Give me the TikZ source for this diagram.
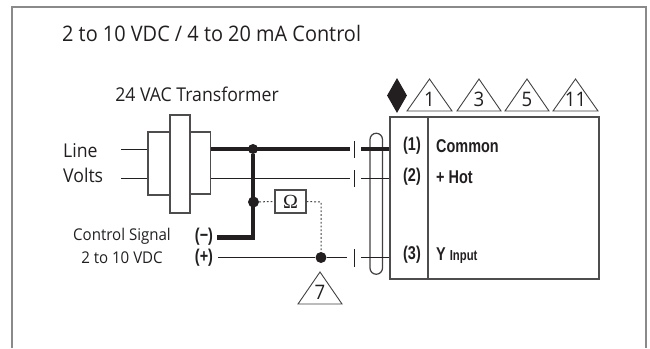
\documentclass[tikz,border=0pt]{standalone}
\usepackage{fontspec}
\usetikzlibrary{shapes.geometric}
\setmainfont{Open Sans}[FakeStretch=0.93]
\newfontfamily\condbold{Liberation Sans Bold}[FakeStretch=0.78]
\newfontfamily\omfont{Liberation Serif}
\definecolor{ink}{HTML}{231F20}
\definecolor{framegray}{HTML}{8A8A8A}
\tikzset{
  thinw/.style={draw=ink,line width=1pt},
  thickw/.style={draw=ink,line width=4.4pt},
  boxw/.style={draw=ink!80,line width=1.2pt,fill=white,inner sep=0pt},
  dotw/.style={draw=ink!85,line width=1pt,dash pattern=on 1.8pt off 2pt},
  junction/.style={circle,fill=ink,inner sep=0pt,minimum size=#1},
  lab/.style={text=ink,inner sep=0pt},
  title/.style={lab,font=\fontsize{21.4}{24}\selectfont},
  mid/.style={lab,font=\fontsize{19}{22}\selectfont},
  small/.style={lab,font=\fontsize{16.2}{18}\selectfont},
  term/.style={lab,font=\condbold\fontsize{18.5}{20}\selectfont},
  trinum/.style={lab,font=\fontsize{20}{22}\selectfont},
}
\newcommand{\tri}[5]{% name, xleft, xright, ytop, text
  \coordinate (#1a) at ({(#2+#3)/2},#4);
  \coordinate (#1l) at (#2,#4+32);
  \coordinate (#1r) at (#3,#4+32);
  \draw[draw=ink!85,line width=0.9pt,line join=miter] (#1a) -- (#1l) -- (#1r) -- cycle;
  \node[trinum] (#1t) at ({(#2+#3)/2},#4+20.5) {#5};
}
\begin{document}
\begin{tikzpicture}[x=1pt,y=-1pt]
\useasboundingbox (0,0) rectangle (650,348);
% frame
\coordinate (fbl) at (12,348);
\coordinate (ftl) at (12,7);
\coordinate (ftr) at (646,7);
\coordinate (fbr) at (646,348);
\draw[framegray,line width=1.6pt] (fbl) -- (ftl) -- (ftr) -- (fbr);
% texts
\node[title,anchor=west] (ttl) at (62,33) {2 to 10 VDC / 4 to 20 mA Control};
\node[mid] (xf) at (197,94) {24 VAC Transformer};
\node[mid,anchor=west] (line) at (63,151) {Line};
\node[mid,anchor=west] (volts) at (63,175) {Volts};
\node[small] (cs) at (122,236) {Control Signal};
\node[small] (cv) at (122,258) {2 to 10 VDC};
\node[term] (neg) at (204,237) {(−)};
\node[term] (pos) at (204,258) {(+)};
% named wire coordinates
\coordinate (la) at (121,149);
\coordinate (lb) at (121,178);
% cable loop (behind wires)
\draw[draw=ink!85,line width=1.2pt] (370,268) -- (370,139.5) arc[start angle=180,end angle=360,radius=6.25] -- (382.5,268) arc[start angle=0,end angle=180,radius=6.25];
% transformer
\node[boxw,minimum width=22pt,minimum height=63pt] (tl) at (159,163.5) {};
\node[boxw,minimum width=21pt,minimum height=62pt] (tr) at (200,163) {};
\node[boxw,minimum width=20pt,minimum height=98pt] (tc) at (180,164) {};
\draw[thinw] (la) -- (la -| tl.west);
\draw[thinw] (lb) -- (lb -| tl.west);
% device
\node[boxw,minimum width=209pt,minimum height=162pt,fill=none] (dev) at (494.5,198) {};
\draw[boxw,fill=none] (428,117) coordinate (dt) -- (428,279) coordinate (db);
% junctions
\node[junction=10pt] (j1) at (253,149) {};
\node[junction=11pt] (j2) at (253.5,202) {};
\node[junction=11pt] (j3) at (321,257.5) {};
% ticks
\coordinate (t1a) at (354,141); \coordinate (t1b) at (354,158);
\coordinate (t2a) at (354,170); \coordinate (t2b) at (354,187);
\coordinate (t3a) at (354,249); \coordinate (t3b) at (354,267);
\draw[thinw] (t1a) -- (t1b);
\draw[thinw] (t2a) -- (t2b);
\draw[thinw] (t3a) -- (t3b);
% wires
\coordinate (e1) at (350,149);
\coordinate (s1) at (361,149);
\coordinate (e2) at (350,178);
\coordinate (s2) at (361,178);
\coordinate (e3) at (347,257.5);
\coordinate (s3) at (361,257.5);
\coordinate (sneg) at (217,237.5);
\coordinate (spos) at (218,257.5);
\draw[thickw] (tr.east |- j1) -- (e1);
\draw[thickw] (s1) -- (dev.west |- s1);
\draw[thinw] (tr.east |- e2) -- (e2);
\draw[thinw] (s2) -- (dev.west |- s2);
\draw[thickw,line join=miter] (j1) -- (j1 |- sneg) -- (sneg);
\draw[thinw] (spos) -- (j3) -- (e3);
\draw[thinw] (s3) -- (dev.west |- s3);
% resistor
\node[boxw,minimum width=31pt,minimum height=23pt,text=ink,font=\omfont\fontsize{20}{22}\selectfont] (om) at (290.5,201.5) {Ω};
\coordinate (dc) at (321,202);
\draw[dotw] (j2) -- (om.west);
\draw[dotw] (om.east) -- (dc) -- (j3);
% terminal labels
\node[term] (n1) at (412,146) {(1)};
\node[term] (n2) at (412,177) {(2)};
\node[term] (n3) at (412,255) {(3)};
\node[term,anchor=west] (common) at (436,146) {Common};
\node[term,anchor=west] (hot) at (436,177) {+ Hot};
\node[term,anchor=west] (yin) at (436,256) {Y {\fontsize{14.5}{16}\selectfont Input}};
% diamond
\node[diamond,fill=ink,inner sep=0pt,minimum width=20pt,minimum height=35pt,shape aspect=0.57] (dm) at (397,95.5) {};
% triangles
\tri{ta}{407}{452}{79}{1}
\tri{tb}{457}{501}{79}{3}
\tri{tc5}{505}{549}{79}{5}
\tri{td}{553}{598}{79}{11}
\tri{te}{298}{342}{272}{7}
\end{tikzpicture}
\end{document}
